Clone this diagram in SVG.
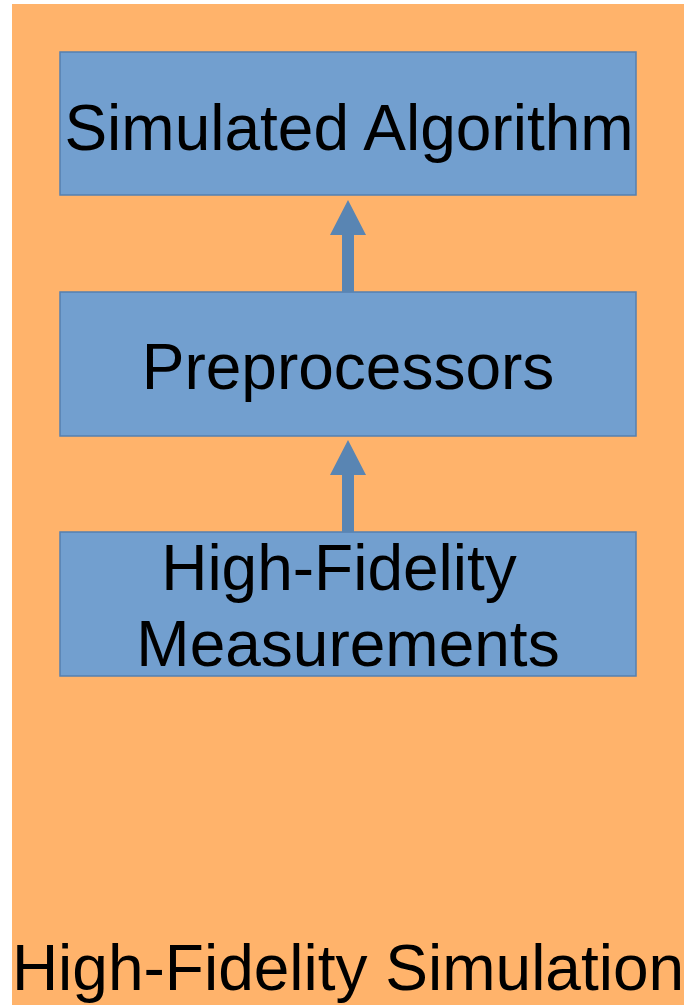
<svg xmlns="http://www.w3.org/2000/svg" width="685" height="1005" viewBox="0 0 685 1005">
<style>
.node{fill:#729FCF;stroke:#5680B0;stroke-width:1.5}
.t{font-family:"Liberation Sans",Arial,sans-serif;font-size:64px;fill:#000;text-anchor:middle}
.arr{fill:#5985B3}
</style>
<rect x="0" y="0" width="685" height="1005" fill="#fff"/>
<g id="container">
<rect x="12" y="4" width="672" height="1001" fill="#FFB36B"/>
<text class="t" x="348" y="990">High-Fidelity Simulation</text>
</g>
<g id="simulated-algorithm">
<rect class="node" x="60" y="52" width="576" height="143"/>
<text class="t" x="349" y="150">Simulated Algorithm</text>
</g>
<g id="preprocessors">
<rect class="node" x="60" y="292" width="576" height="144"/>
<text class="t" x="348" y="389">Preprocessors</text>
</g>
<g id="measurements">
<rect class="node" x="60" y="532" width="576" height="144"/>
<text class="t" x="339" y="590">High-Fidelity</text>
<text class="t" x="348" y="666">Measurements</text>
</g>
<g id="connectors">
<path class="arr" d="M342 292 V235 H330 L348 200 L366 235 H354 V292 Z"/>
<path class="arr" d="M342 532 V475 H330 L348 440 L366 475 H354 V532 Z"/>
</g>
</svg>
